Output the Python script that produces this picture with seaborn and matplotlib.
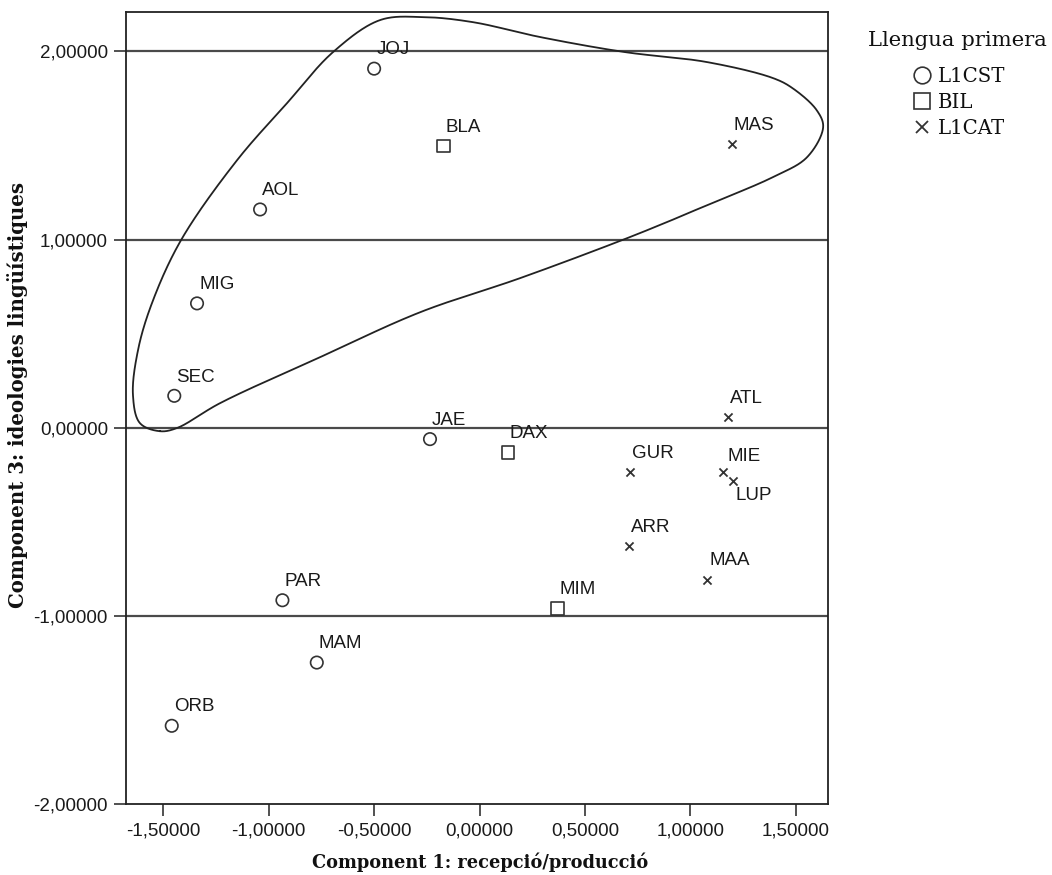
import numpy as np
import pandas as pd
import matplotlib
matplotlib.use("Agg")
import matplotlib.pyplot as plt
from matplotlib.lines import Line2D
from matplotlib.ticker import FuncFormatter
import seaborn as sns

# Speakers and their component scores
speakers = ["JOJ", "BLA", "MAS", "AOL", "MIG", "SEC", "ATL", "JAE", "DAX",
            "GUR", "MIE", "LUP", "ARR", "MAA", "MIM", "PAR", "MAM", "ORB"]
component1 = [-0.500, -0.170, 1.196, -1.041, -1.340, -1.448, 1.179, -0.235, 0.134,
              0.714, 1.157, 1.201, 0.709, 1.081, 0.369, -0.935, -0.772, -1.460]
component3 = [1.908, 1.497, 1.507, 1.160, 0.661, 0.170, 0.055, -0.060, -0.131,
              -0.234, -0.237, -0.283, -0.627, -0.806, -0.960, -0.916, -1.247, -1.583]
first_language = ["L1CST", "BIL", "L1CAT", "L1CST", "L1CST", "L1CST", "L1CAT", "L1CST", "BIL",
                  "L1CAT", "L1CAT", "L1CAT", "L1CAT", "L1CAT", "BIL", "L1CST", "L1CST", "L1CST"]

language_groups = ["L1CST", "BIL", "L1CAT"]
x_ticks = [-1.5, -1.0, -0.5, 0.0, 0.5, 1.0, 1.5]
y_ticks = [-2.0, -1.0, 0.0, 1.0, 2.0]

# Hand-drawn outline around the upper group of speakers (data coordinates)
outline_x = [-1.516, -1.611, -1.644, -1.620, -1.554, -1.416, -1.150, -0.913,
             -0.695, -0.472, -0.268, -0.031, 0.287, 0.690, 1.079, 1.392, 1.484,
             1.599, 1.630, 1.554, 1.392, 1.079, 0.913, 0.676, 0.192, -0.282, -0.757,
             -1.231, -1.435]
outline_y = [-0.018, 0.025, 0.174, 0.413, 0.662, 0.997, 1.422, 1.725,
             1.996, 2.166, 2.182, 2.155, 2.076, 1.996, 1.943, 1.858, 1.805,
             1.688, 1.598, 1.438, 1.332, 1.183, 1.104, 0.997, 0.795, 0.614, 0.375,
             0.131, -0.001]

df = pd.DataFrame({"speaker": speakers, "c1": component1, "c3": component3,
                   "lang": first_language})

sns.set_style("ticks")
plt.rcParams["font.family"] = ["Liberation Sans", "DejaVu Sans"]

W, H = 1052, 875
fig = plt.figure(figsize=(W / 100, H / 100), dpi=100)
ax_l, ax_r, ax_t, ax_b = 126, 828, 12, 804.3
ax = fig.add_axes([ax_l / W, 1 - ax_b / H, (ax_r - ax_l) / W, (ax_b - ax_t) / H])

xlim = (-1.677, 1.653)
ylim = (-2.0, 2.209)
ax.set_xlim(*xlim)
ax.set_ylim(*ylim)

ink = "#333333"
marker_style = {
    "L1CST": dict(marker="o", s=80, facecolors="none", edgecolor=ink, linewidth=1.2),
    "BIL": dict(marker="s", s=80, facecolors="none", edgecolor=ink, linewidth=1.2),
    "L1CAT": dict(marker="x", s=34, color=ink, linewidth=1.3),
}
for lang in language_groups:
    sub = df[df["lang"] == lang]
    sns.scatterplot(data=sub, x="c1", y="c3", ax=ax, legend=False, zorder=3,
                    **marker_style[lang])

# Speaker labels
offsets = {"LUP": (2, -4, "top"), "MIE": (3, 8, "baseline")}
for name, xv, yv in zip(speakers, component1, component3):
    dx, dy, va = offsets.get(name, (1.5, 10.3, "baseline"))
    ax.annotate(name, (xv, yv), xytext=(dx, dy), textcoords="offset points",
                ha="left", va=va, fontsize=13.5, color="#1a1a1a",
                family="Liberation Sans", zorder=4)


def closed_catmull_rom(px, py, sx, sy, n=40, alpha=0.5):
    pts = np.column_stack([np.asarray(px) * sx, np.asarray(py) * sy])
    N = len(pts)
    segs = []
    for i in range(N):
        p0, p1, p2, p3 = pts[(i - 1) % N], pts[i], pts[(i + 1) % N], pts[(i + 2) % N]
        t0 = 0.0
        t1 = t0 + np.linalg.norm(p1 - p0) ** alpha
        t2 = t1 + np.linalg.norm(p2 - p1) ** alpha
        t3 = t2 + np.linalg.norm(p3 - p2) ** alpha
        t = np.linspace(t1, t2, n, endpoint=False)[:, None]
        a1 = (t1 - t) / (t1 - t0) * p0 + (t - t0) / (t1 - t0) * p1
        a2 = (t2 - t) / (t2 - t1) * p1 + (t - t1) / (t2 - t1) * p2
        a3 = (t3 - t) / (t3 - t2) * p2 + (t - t2) / (t3 - t2) * p3
        b1 = (t2 - t) / (t2 - t0) * a1 + (t - t0) / (t2 - t0) * a2
        b2 = (t3 - t) / (t3 - t1) * a2 + (t - t1) / (t3 - t1) * a3
        segs.append((t2 - t) / (t2 - t1) * b1 + (t - t1) / (t2 - t1) * b2)
    curve = np.vstack(segs + [segs[0][:1]])
    return curve[:, 0] / sx, curve[:, 1] / sy


sx = (ax_r - ax_l) / (xlim[1] - xlim[0])
sy = (ax_b - ax_t) / (ylim[1] - ylim[0])
cx, cy = closed_catmull_rom(outline_x, outline_y, sx, sy)
ax.plot(cx, cy, color="#222222", lw=1.3, zorder=2)

# Axes, ticks, reference lines
fmt = FuncFormatter(lambda v, pos: f"{v:.5f}".replace(".", ","))
ax.set_xticks(x_ticks)
ax.set_yticks(y_ticks)
ax.xaxis.set_major_formatter(fmt)
ax.yaxis.set_major_formatter(fmt)
ax.tick_params(axis="both", direction="out", length=8.5, width=1.2, color="#333333",
               labelsize=13.5, labelcolor="#1a1a1a", pad=4.5)
ax.grid(False)
for yv in y_ticks[1:]:
    ax.axhline(yv, color="#4a4a4a", lw=1.6, zorder=1)
for sp in ax.spines.values():
    sp.set_visible(True)
    sp.set_color("#222222")
    sp.set_linewidth(1.3)

label_font = dict(family="DejaVu Serif", weight="bold", color="#111111")
ax.set_xlabel("Component 1: recepció/producció", size=12.8, **label_font)
ax.set_ylabel("Component 3: ideologies lingüístiques", size=14.2, **label_font)
ax.xaxis.label.set_va("baseline")
ax.xaxis.set_label_coords(0.504, -0.0804)
ax.yaxis.set_label_coords(-0.1396, 0.517)

# Legend: title as figure text, entries centred beneath it
fig.text(957 / W, 1 - 40 / H, "Llengua primera", ha="center", va="center",
         family="DejaVu Serif", size=15.2, color="#111111")
handles = [
    Line2D([], [], marker="o", ls="none", mfc="none", mec=ink, ms=12, mew=1.2),
    Line2D([], [], marker="s", ls="none", mfc="none", mec=ink, ms=12, mew=1.2),
    Line2D([], [], marker="x", ls="none", color=ink, ms=9, mew=1.3),
]
fig.legend(handles, language_groups, loc="upper center",
           bbox_to_anchor=(959 / W, 1 - 67 / H), frameon=False,
           prop={"family": "DejaVu Serif", "size": 14.2},
           labelcolor="#111111",
           handlelength=1.0, handletextpad=0.3, labelspacing=0.35,
           borderpad=0, borderaxespad=0)

fig.savefig("out.png", dpi=100, facecolor="white")
